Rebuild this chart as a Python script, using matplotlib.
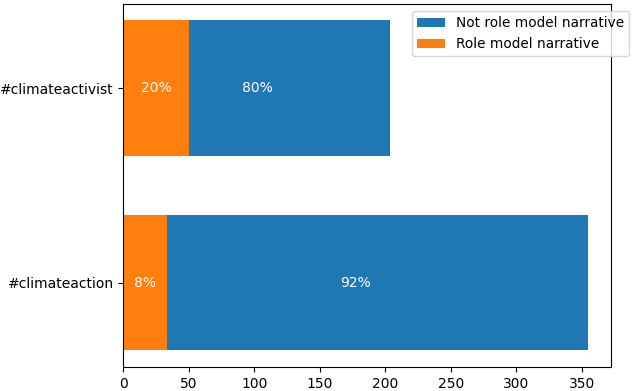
import matplotlib
matplotlib.use("Agg")
import matplotlib.pyplot as plt
import numpy as np

categories = ['#climateaction', '#climateactivist']
not_role_model = [355, 204]
role_model = [33, 50]
not_pct = ['92%', '80%']
role_pct = ['8%', '20%']

fig = plt.figure(figsize=(6.33, 3.91), dpi=100)
ax = fig.add_axes([0.1948, 0.0614, 0.9660 - 0.1948, 0.9898 - 0.0614])

y = np.arange(len(categories))
ax.barh(y, not_role_model, height=0.7, color='#1f77b4', label='Not role model narrative')
ax.barh(y, role_model, height=0.7, color='#ff7f0e', label='Role model narrative')

for i in range(len(categories)):
    ax.text(not_role_model[i] / 2, y[i], not_pct[i], color='white', ha='center', va='center', fontsize=10)
    ax.text(role_model[i] / 2, y[i], role_pct[i], color='white', ha='center', va='center', fontsize=10)

ax.set_yticks(y)
ax.set_yticklabels(categories)
ax.legend(loc='upper right', bbox_to_anchor=(1.05, 1.0), fontsize=9.8)

fig.savefig('out.png', dpi=100)
